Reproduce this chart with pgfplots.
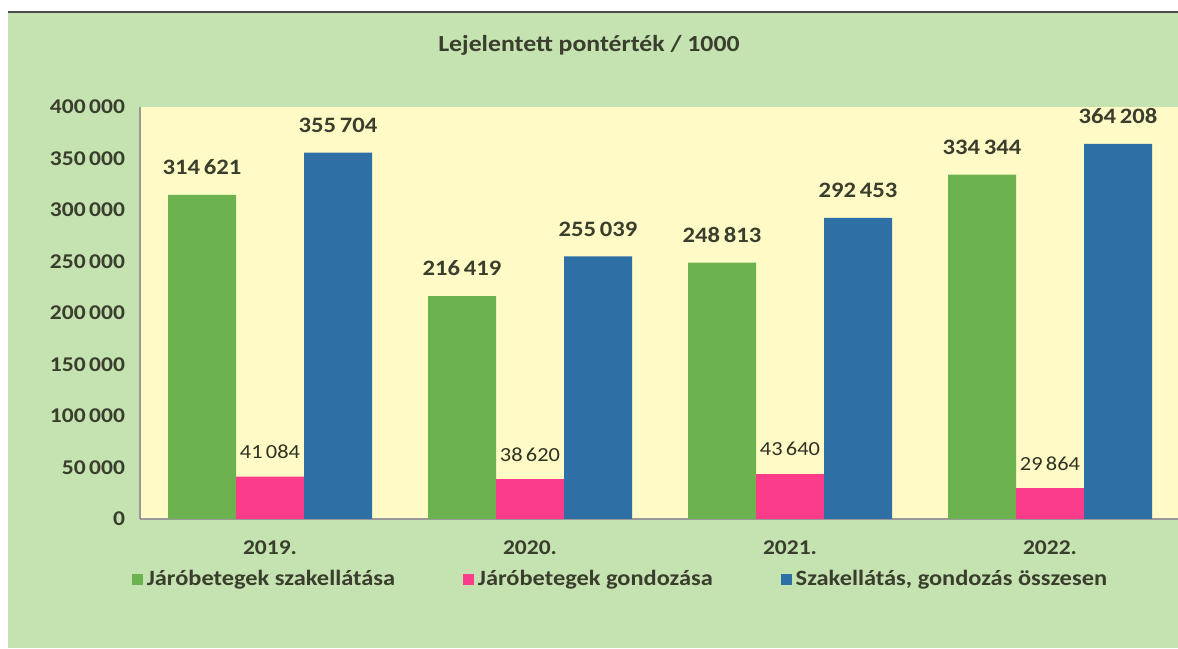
\documentclass[border=0pt]{standalone}
\usepackage{fontspec}
\setmainfont{Carlito}[FakeStretch=1.12]
\usepackage{pgfplots}
\pgfplotsset{compat=1.18}
\definecolor{bggreen}{RGB}{197,226,177}
\definecolor{plotyellow}{RGB}{255,250,198}
\definecolor{sgreen}{RGB}{108,178,78}
\definecolor{spink}{RGB}{250,60,138}
\definecolor{sblue}{RGB}{46,111,166}
\definecolor{textc}{RGB}{58,62,45}
\begin{document}
\begin{tikzpicture}[x=1pt,y=1pt]
\useasboundingbox (0,0) rectangle (589,324);
\fill[white] (0,0) rectangle (589,324);
\fill[bggreen] (4,0) rectangle (589,318);
\draw[gray!60!black, line width=0.6pt] (4,318) -- (589,318);
\node[font=\bfseries\fontsize{11.5}{13}\selectfont, text=textc] at (294.5,301.5) {Lejelentett pontérték / 1000};
\begin{axis}[
  at={(70pt,64.5pt)}, anchor=south west,
  scale only axis, width=520pt, height=206pt,
  xmin=-0.5, xmax=3.5, ymin=0, ymax=400000,
  xtick={0,1,2,3}, xticklabels={2019.,2020.,2021.,2022.},
  ytick={0,50000,...,400000},
  major tick length=0pt,
  axis lines*=left,
  axis line style={gray!80, line width=0.8pt},
  axis background/.style={fill=plotyellow},
  scaled y ticks=false,
  /pgf/number format/assume math mode=true,
  /pgf/number format/.cd, fixed, precision=0, 1000 sep={\,}, /pgfplots/.cd,
  yticklabel style={font=\bfseries\fontsize{10.5}{12}\selectfont, text=textc, xshift=-4pt},
  xticklabel style={font=\bfseries\fontsize{10.5}{12}\selectfont, text=textc, yshift=-7.5pt},
  ybar, bar width=34pt,
  legend style={at={(0.463,-0.147)}, anchor=center, draw=none, fill=none,
    legend columns=3, font=\bfseries\fontsize{10.9}{12}\selectfont, text=textc,
    /tikz/every even column/.append style={column sep=32pt}},
  legend cell align=left,
  legend image code/.code={\fill[#1] (0pt,-2.6pt) rectangle (5.4pt,2.8pt);},
  nodes near coords,
]
\addplot[fill=sgreen, draw=none, bar shift=-34pt,
  nodes near coords style={font=\bfseries\fontsize{11}{12}\selectfont, text=textc, yshift=6.5pt}]
  coordinates {(0,314621) (1,216419) (2,248813) (3,334344)};
\addplot[fill=spink, draw=none, bar shift=0pt,
  nodes near coords style={font=\fontsize{10}{12}\selectfont, text=textc!80!black, yshift=5.5pt}]
  coordinates {(0,41084) (1,38620) (2,43640) (3,29864)};
\addplot[fill=sblue, draw=none, bar shift=34pt,
  nodes near coords style={font=\bfseries\fontsize{11}{12}\selectfont, text=textc, yshift=6.5pt}]
  coordinates {(0,355704) (1,255039) (2,292453) (3,364208)};
\legend{Járóbetegek szakellátása, Járóbetegek gondozása, {Szakellátás, gondozás összesen}}
\end{axis}
\end{tikzpicture}
\end{document}
